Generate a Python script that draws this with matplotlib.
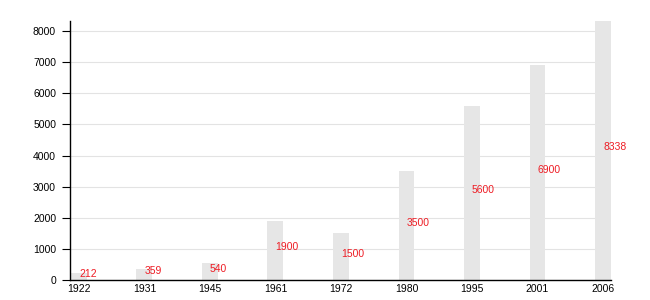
import matplotlib
matplotlib.use("Agg")
import matplotlib.pyplot as plt

years = ["1922", "1931", "1945", "1961", "1972", "1980", "1995", "2001", "2006"]
population = [212, 359, 540, 1900, 1500, 3500, 5600, 6900, 8338]
yticks = [0, 1000, 2000, 3000, 4000, 5000, 6000, 7000, 8000]

plt.rcParams['font.family'] = ['Liberation Sans', 'DejaVu Sans']

fig = plt.figure(figsize=(6.5, 3), dpi=100)
ax = fig.add_axes([70/650, 1-280/300, (611-70)/650, (280-20.5)/300])

w = 0.244
xs = list(range(len(years)))
ax.bar(xs, population, width=w, align='edge', color='#e6e6e6', zorder=2)
for x, v in zip(xs, population):
    ax.text(x + w/2, v/2, str(v), color='#ee1c24', fontsize=7.5, ha='left', va='baseline', zorder=3)

ax.set_xlim(-0.015, len(years) - 1 + w)
ax.set_ylim(0, max(population))
ax.set_xticks([x + w/2 for x in xs])
ax.set_xticklabels(years, fontsize=7.5)
ax.set_yticks(yticks)
ax.set_yticklabels([str(t) for t in yticks], fontsize=7.5)
ax.tick_params(axis='x', length=0, pad=3)
ax.tick_params(axis='y', length=6, width=0.8, pad=4)
ax.yaxis.grid(True, color='#e3e3e3', linewidth=0.8, zorder=1)
ax.set_axisbelow(True)
for s in ['top', 'right']:
    ax.spines[s].set_visible(False)
ax.spines['left'].set_linewidth(1)
ax.spines['bottom'].set_linewidth(1)

fig.savefig("out.png", dpi=100)
